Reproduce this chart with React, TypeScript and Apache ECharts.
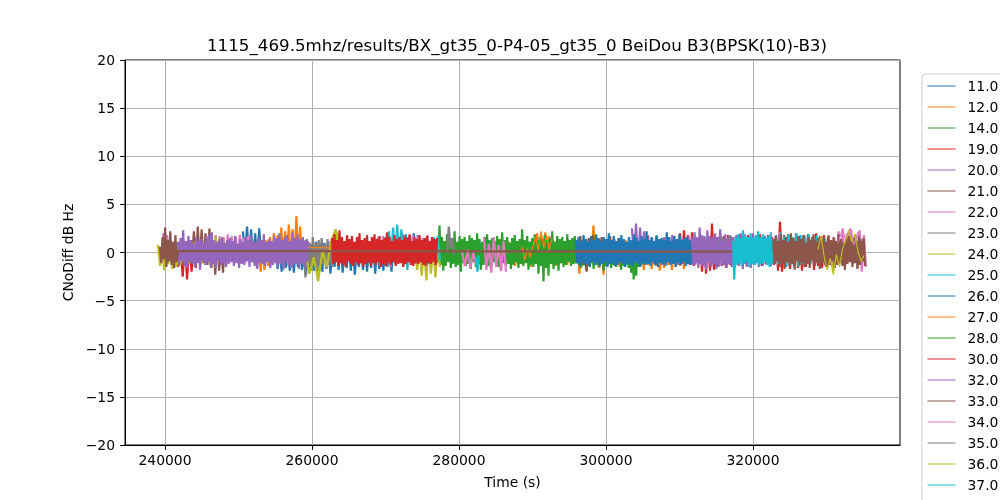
import React, { useEffect, useRef } from "react";
import * as echarts from "echarts";

const TITLE = "1115_469.5mhz/results/BX_gt35_0-P4-05_gt35_0 BeiDou B3(BPSK(10)-B3)";
const NAMES = ["11.0", "12.0", "14.0", "19.0", "20.0", "21.0", "22.0", "23.0", "24.0", "25.0", "26.0", "27.0", "28.0", "30.0", "32.0", "33.0", "34.0", "35.0", "36.0", "37.0", "41.0"];
const COLORS = ["#1f77b4", "#ff7f0e", "#2ca02c", "#d62728", "#9467bd", "#8c564b", "#e377c2", "#7f7f7f", "#bcbd22", "#17becf"];
const X_TICKS = [240000, 260000, 280000, 300000, 320000];
const X_MIN = 234560;
const X_MAX = 340000;
// series whose separate time windows are joined by a straight line
const JOINED = ["33.0"];
// series drawn only as a thin trace (no band fill)
const THIN = ["27.0", "34.0", "35.0"];

// ---- values of each time window (dB Hz) ----
const v11 = [2.2,-0.8,2.7,-0.6,2.4,-1.0,2.0,-0.7,2.5,-0.9,1.0,-0.8,1.1,-1.0,0.9,-0.7,
  1.0,-1.7,0.8,-2.0,1.1,-1.6,0.9,-1.9,1.0,-2.1,0.7,-1.5,1.1,-1.8,0.9,-2.3,1.0,-1.6,0.8,-1.9,1.1,-1.4,0.9,-2.0,
  1.0,-1.7,0.8,-2.2,1.1,-1.5,0.9,-1.8,1.0,-2.1,0.7,-1.6,1.1,-1.9,0.9,-2.3,1.0,-1.5,0.8,-1.8,1.1,-2.0,0.9,-1.6,
  1.0,-2.2,0.8,-1.7,1.1,-1.9,0.9,-1.5,1.0,-2.0,0.8,-1.2,1.8,-1.0,2.1,-1.3,1.9,-0.9,1.7,-1.1,2.0,-1.2,1.8,-1.0];
const v12a = [0.9,-1.6,1.2,-2.0,1.0,-1.8,1.3,-1.4,1.6,-1.2,2.0,-1.0,1.8,-0.9,2.6,-1.1,2.2,-0.8,2.9,-1.0,2.4,-0.9,3.8,-1.0,2.7,-0.8];
const v12b = [0.8,-1.0,1.1,-1.2,0.9,-1.4,1.0,-1.1,1.2,-1.3,0.9,-1.0,1.1,-1.5,1.0,
  -1.1,2.0,-1.2,1.8,-1.0,2.1,-1.3,1.7,
  -1.1,1.2,-1.4,1.0,-1.2,1.3,-1.0,1.1,-1.3,0.9,-1.2,1.0,-1.1,
  1.1,-2.2,1.3,-1.4,1.2,-1.3,1.5,-1.1,2.8,-1.2,1.4,-1.6,1.2,-2.3,1.3,
  -1.3,1.1,-1.2,1.4,-1.0,1.2,-1.5,1.1,-1.3,1.3,-1.2,1.0,-1.4,1.2,-1.1,1.3,
  -1.5,1.1,-1.8,1.2,-1.3,1.0,-1.7,1.1,-1.4,1.2,-1.9,1.0,-1.6,1.1,-1.3,1.2,-1.8,1.0,-1.5,1.1,-1.4,1.2,-1.7,1.0,-1.2,1.1];
const v14 = [1.4,-1.1,2.8,-1.3,1.6,-1.9,1.2,-1.4,1.9,-1.0,1.5,-1.6,1.3,-1.2,2.2,-1.5,1.1,-1.3,1.7,-2.0,
  1.4,-1.1,1.6,-1.4,1.2,-1.2,1.8,-1.7,1.5,-1.0,1.3,-1.5,2.0,-1.2,1.4,-1.8,1.1,-1.3,1.6,-1.1,
  1.9,-1.4,1.3,-1.6,1.5,-1.0,1.2,-1.2,1.7,-1.5,1.4,-1.9,2.1,-1.1,1.3,-1.4,1.6,-1.2,1.0,-1.7,
  1.5,-1.3,1.8,-1.0,1.2,-1.6,1.4,-1.2,2.4,-1.4,1.3,-1.1,1.7,-1.8,1.1,-1.3,1.5,-1.5,1.9,-1.2,
  1.2,-2.2,1.6,-1.4,1.4,-3.0,1.8,-1.6,1.3,-2.4,1.5,-1.2,2.2,-1.7,1.1,-1.3,1.7,-1.9,1.4,-1.1,
  1.6,-1.5,1.2,-1.3,1.9,-1.0,1.3,-1.4,1.5,-1.2,1.7,-1.1,
  1.0,-1.2,0.9,-1.6,1.1,-1.3,0.8,-1.8,1.0,-1.4,1.2,-1.1,0.9,-1.7,1.0,-1.3,1.1,-1.5,0.8,-1.2,
  1.0,-1.9,0.9,-1.4,1.1,-1.2,1.0,-1.6,0.8,-1.3,1.2,-1.5,0.9,-1.1,1.0,-1.8,1.1,-1.4,0.9,-1.3,
  1.0,-1.6,0.8,-2.1,1.1,-2.8,0.9,-2.4,1.0,-1.5,0.8,-1.3,1.0,-1.2,0.9];
const v19a = [0.9,-1.5,1.0,-2.5,0.8,-2.8,1.1,-2.0,0.9,-1.6];
const v19b = [2.0,-1.2,2.3,-1.0,1.8,-1.3,2.1,
  -1.4,1.6,-1.3,1.7,-2.0,1.5,-2.2,1.4,-1.9,3.0,-1.8,1.6,
  -1.5,1.9,-1.4,1.7,-1.6,1.8,-1.3,1.6,
  -1.2,1.7,-1.1,1.9,-1.3,1.6,-1.2,1.8,-1.0,1.5,-1.3,1.7,-1.1,1.9,-1.4,1.6,-1.2,1.8,-1.0,
  1.6,-1.3,1.7,-1.9,3.2,-2.0,1.8,-1.5,1.9,-1.7,1.6,-1.4,2.0,-1.6,1.7,-1.9,1.8,-1.5,1.9,-1.3,1.6,-1.8,2.0,-1.4,1.7,-1.6,1.8,-1.5,1.6,-1.3];
const v20 = [2.5,-1.0,3.0,-1.2,2.6,-0.9,2.2,-1.1,1.8,-1.0,
  1.5,-1.2,1.7,-1.0,1.4,-1.3,1.6,-1.1,1.5,-1.2,1.8,-1.0,1.4,-1.3,1.6,-1.1,1.5,-1.2,1.7,-1.0,
  1.5,-1.3,1.6,-1.2,1.4,-1.4,1.7,-1.1,1.5,-1.3,1.6,-1.2,1.4,-1.5,1.6,-1.1,1.5,-1.4,1.7,-1.2,1.5,
  -1.6,1.8,-1.4,2.0,-1.7,1.9,-1.5,1.7,-1.6,2.0,-1.3,1.8,-1.5,1.6,-1.4,1.7,-1.3,1.5,-1.4,1.2,-1.2];
const v21a = [1.3,-1.0,2.2,-1.2,2.7,-0.9,2.4,-1.1,2.0,-1.3,2.5,-1.6,1.2,-2.3,1.1,-1.9,1.0,-2.1,0.9];
const v21b = [1.2,-0.8,1.7,-1.2,1.0,-2.0,1.5,-0.9,1.8,-1.1,1.3,-1.4,1.6,-1.0,1.2,-1.3,1.7,-0.9,1.4,-1.2,1.5,-1.1,1.3,-1.0];
const v22a = [2.0,-0.8,1.8,-1.0,1.2,-0.9,1.0,-0.7,1.1,-1.0,0.9,-0.8,1.2,-0.9,1.0,-1.1,0.8,-0.7,1.1,-0.9,1.0,-1.0,
  1.7,-0.8,1.6,-0.9,1.8,-1.0,1.7,-0.8,1.6,-1.1,1.9,-0.9,1.7,-1.0,1.6,-0.8,1.8,-0.9,1.5,-1.0,1.7,-0.8];
const v22b = [1.6,-1.4,1.7,-1.1,1.5,-1.5,1.8,-1.2,1.7,-1.0,1.9,-1.1,1.6,-0.9,1.8,-1.2,1.7,-1.0,1.5,-1.1,1.8,-0.9,1.6,-1.0];
const v22c = [0.1,-1.4,0.3,-1.6,0.0,-1.2];
const v22d = [1.5,-1.8,0.9,-2.1,1.6,-1.5,0.8,-1.9,1.2,-2.0];
const v22e = [1.2,-1.0,1.5,-1.2,2.2,-0.9,2.5,-1.1,2.0,-1.0,2.4,-1.2,1.9,-1.6,2.3,-2.0,1.8,-1.5];
const v23a = [1.2,-2.6,1.4,-1.5,1.0,-1.9,1.6,-1.3,1.1,-2.0,1.3,-1.4,1.5,-1.2,0.9,-1.7,1.4,-1.3,1.2,-1.5];
const v23b = [0.2,2.7,0.4,1.5,-0.2];
const v24a = [0.8,-1.4,0.6,-1.8,0.9,-1.2,0.7,-1.7,1.0,-1.5,0.8,-1.3,1.2,-1.0,0.9,-1.1,1.0,-0.9,1.1,-1.0,0.8,-1.2,1.0,-0.9,1.2,-1.1,1.3,-1.0,1.7,-0.9,1.5,-1.0,1.1,-0.8,1.0,-0.9];
const v24b = [0.3,-2.2,-0.5,-3.0,0.2,-1.5,1.2,2.4,0.9];
const v24c = [0.9,-1.8,0.7,-2.4,0.8,-2.9,1.0,-2.2,0.6,-2.6,0.9,-1.5];
const v25a = [1.6,-0.9,2.2,-1.0,2.6,-1.1,2.9,-0.8,2.4,-1.2,1.8,-1.8,1.5,-1.0,1.2,-1.1,1.3,-0.9,1.1,-1.0,1.4,-1.2,1.2,-0.9,1.6,-1.0,1.7,-0.8];
const v25b = [-0.5,-2.0,-0.3];
const v25c = [1.4,-1.0,1.8,-1.2,2.1,-1.1,1.7,-1.5,1.9,-1.3,1.6,-1.4,2.0,-1.5,1.8,-1.2,1.7,-1.0,1.9,-1.1,1.6,-1.0,1.8,-0.9,1.5,-1.0,1.4];
const v26 = [1.3,-1.1,1.6,-1.4,1.2,-1.0,1.8,-1.3,1.4,-1.2,1.1,-1.5,1.7,-1.0,1.3,-1.3,1.9,-1.1,1.5,-1.4,
  1.2,-1.2,1.6,-1.0,1.4,-1.5,2.0,-1.2,1.3,-1.1,1.7,-1.4,1.2,-1.3,1.5,-1.0,1.8,-1.2,1.4,-1.5,
  1.1,-1.1,1.6,-1.3,1.3,-1.4,1.9,-1.0,1.5,-1.2,1.2,-1.5,1.7,-1.1,1.4,-1.3,2.2,-1.2,1.3,-1.4,
  1.6,-1.0,1.2,-1.3,1.8,-1.5,1.4,-1.1,1.5,-1.2,1.3,-1.4,2.1,-1.0,1.6,-1.3,1.2,-1.2,1.7,-1.5,
  1.4,-1.1,1.9,-1.3,1.3,-1.0,1.5,-1.4,1.6,-1.2,1.3,-1.3,1.2];
const v27a = [0.52,0.48];
const v27b = [0.6,-0.8,0.4,-0.5,0.6,1.6,0.2,2.2,0.5,1.8,0.3,1.5];
const v30 = [1.5,-1.2,1.9,-1.0,1.3,-1.4,2.3,-1.1,1.6,-1.3,1.2,-1.5,1.8,-0.9,1.4,-1.2,1.7,-1.4,1.1,-1.0,
  1.6,-1.3,2.0,-1.1,1.3,-1.5,1.5,-1.2,1.8,-1.0,1.2,-1.4,1.6,-1.1,1.9,-1.3,1.4,-1.0,1.7,-1.5,
  1.3,-1.2,1.5,-1.4,2.1,-1.1,1.6,-1.3,1.2,-1.0,1.8,-1.4,1.4,-1.2,1.6,-1.1,1.3,-1.5,1.7,-1.2,
  1.5,-1.0,1.9,-1.3,1.2,-1.4,1.6,-1.1,1.4,-1.2,1.8,-1.0,1.3,-1.3,1.5,-1.4,1.7,-1.1,1.2,-1.2,
  1.6,-1.0,1.4,-1.3,1.5];
const v32a = [1.1,-1.3,1.5,-0.9,2.3,-1.4,1.2,-1.6,1.7,-1.0,1.3,-1.2,0.9,-1.5,1.6,-1.1,1.2,-1.8,1.4,-0.8,
  1.0,-1.3,1.5,-1.0,1.9,-1.4,2.1,-1.2,1.3,-1.6,1.1,-0.9,1.4,-1.3,1.6,-1.1,1.0,-1.5,1.3,-1.2,
  1.5,-1.0,1.2,-1.4,1.7,-1.1,0.9,-1.6,1.4,-1.2,1.1,-1.3,1.6,-0.9,1.3,-1.5,1.8,-1.0,1.2,-1.4,
  1.0,-1.7,1.5,-1.1,1.3,-1.2,1.9,-1.4,1.1,-1.0,1.4,-1.6,1.2,-1.3,1.7,-1.1,1.5,-1.5,2.0,-1.2,
  1.3,-1.8,1.6,-1.0,1.8,-1.4,1.2,-1.6,2.1,-1.3,1.5,-1.1,1.9,-1.7,1.4,-1.2,1.6,-1.5,1.3,-1.0,1.2];
const v32b = [1.6,-1.3,2.1,-1.1,1.5,-1.6,2.6,-1.2,1.8,-1.4,1.4,-1.8,2.3,-1.0,1.7,-1.5,1.5,-1.2,2.0,-1.7,1.6,-1.1,2.4,-1.4,1.5,-1.3,1.9,-1.6,1.4,-1.2,1.8,-1.5,1.6];
const v33a = [0.6,-1.1,1.6,-0.7,2.6,-1.5,1.3,-0.9,2.2,-1.3,1.1,-1.6,1.8,-1.0,0.15];
const v33b = [0.1,1.4,-1.2,1.7,-0.9,1.2,-1.5,1.9,-1.1,1.3,-1.7,1.6,-1.0,1.1,-1.4,2.0,-1.2,1.5,-1.8,1.2,
  -0.9,1.7,-1.3,1.4,-1.1,1.8,-1.5,1.0,-1.2,1.6,-1.6,1.3,-0.8,1.9,-1.4,1.2,-1.1,1.5,-1.7,1.4,
  -1.0,1.7,-1.3,1.1,-1.5,1.8,-1.2,1.3,-0.9,1.6,-1.6,1.2,-1.3,1.9,-1.1,1.4,-1.4,1.0,-1.8,1.5,
  -1.2,1.7,-1.0,1.3,-1.5,1.6,-1.1,1.2,-1.7,1.8,-1.3,1.4,-0.9,1.5,-1.4];
const v34 = [1.0,2.3,1.4,2.5,0.8,2.1,1.2];
const v35 = [0.9,1.6,1.1,1.7,1.0];
const v36 = [0.3,1.7,-0.4,-1.8,-0.6,-2.3,-0.2,-1.5,0.4,1.2,2.3,1.1,1.9,0.2,-0.9,-0.3];
const v37 = [1.2,-2.8,1.6,-1.3,1.9,-1.1,1.5,-1.4,2.3,-1.2,1.7,-1.0,1.6,-1.5,2.0,-1.2,1.5,-1.3,1.8,-1.1,2.2,-1.4,1.6,-1.2,1.9,-1.0,1.5,-1.3,1.7,-1.5,2.1,-1.2];

// [series, window start (s), window end (s), values]
const SEGMENTS: [string, number, number, number[]][] = [
  ["11.0", 250610, 274690, v11],
  ["12.0", 252250, 258640, v12a],
  ["12.0", 286260, 311430, v12b],
  ["14.0", 277010, 305300, v14],
  ["19.0", 241500, 244220, v19a],
  ["19.0", 310070, 330480, v19b],
  ["20.0", 303540, 322990, v20],
  ["21.0", 243400, 248160, v21a],
  ["21.0", 295920, 302580, v21b],
  ["22.0", 239730, 251560, v22a],
  ["22.0", 268980, 276740, v22b],
  ["22.0", 280410, 282310, v22c],
  ["22.0", 283400, 286390, v22d],
  ["22.0", 330480, 335370, v22e],
  ["23.0", 258900, 262720, v23a],
  ["23.0", 278370, 279320, v23b],
  ["24.0", 239050, 248840, v24a],
  ["24.0", 259050, 263810, v24b],
  ["24.0", 274010, 277410, v24c],
  ["25.0", 269930, 277410, v25a],
  ["25.0", 282310, 282720, v25b],
  ["25.0", 322590, 329800, v25c],
  ["26.0", 295920, 311700, v26],
  ["27.0", 259460, 262720, v27a],
  ["27.0", 288570, 292650, v27b],
  ["30.0", 262720, 277010, v30],
  ["32.0", 241770, 259460, v32a],
  ["32.0", 311700, 317280, v32b],
  ["33.0", 239320, 241770, v33a],
  ["33.0", 322590, 335240, v33b],
  ["34.0", 331570, 334830, v34],
  ["35.0", 315240, 317280, v35],
  ["36.0", 328840, 335100, v36],
  ["37.0", 317280, 322590, v37],
];

const FONT = "DejaVu Sans";
const minus = (v: number) => (v < 0 ? "\u2212" + Math.abs(v) : String(v));

function seriesData(name: string) {
  const segs = SEGMENTS.filter((s) => s[0] === name).sort((a, b) => a[1] - b[1]);
  const out: any[] = [];
  segs.forEach((s, k) => {
    if (k > 0 && !JOINED.includes(name)) out.push([(segs[k - 1][2] + s[1]) / 2, "-"]);
    const [, t0, t1, vals] = s;
    const n = vals.length;
    vals.forEach((v, i) => out.push([n > 1 ? t0 + ((t1 - t0) * i) / (n - 1) : t0, v]));
  });
  return out;
}

export default function App() {
  const ref = useRef<HTMLDivElement>(null);
  useEffect(() => {
    const chart = echarts.init(ref.current!, null, { renderer: "svg" });
    chart.setOption({
      animation: false,
      color: COLORS,
      textStyle: { fontFamily: FONT },
      title: {
        text: TITLE,
        left: 512,
        top: 31,
        textAlign: "center",
        textStyle: { fontFamily: FONT, fontSize: 16.7, fontWeight: "normal", color: "#000" },
      },
      legend: {
        orient: "vertical",
        left: 922,
        top: 74,
        height: 700,
        padding: [5, 5, 5, 5],
        itemWidth: 28,
        itemHeight: 14,
        itemGap: 7,
        borderColor: "#cccccc",
        borderWidth: 1,
        borderRadius: 3,
        backgroundColor: "rgba(255,255,255,0.8)",
        selectedMode: false,
        itemStyle: { opacity: 0, borderWidth: 0 },
        lineStyle: { width: 1 },
        textStyle: { fontFamily: FONT, fontSize: 13.9, color: "#000", padding: [0, 0, 0, 7] },
        data: NAMES,
      },
      grid: { left: 125, right: 100, top: 60, bottom: 55, show: true, borderColor: "#000", borderWidth: 1, backgroundColor: "transparent" },
      xAxis: {
        type: "value",
        min: X_MIN,
        max: X_MAX,
        name: "Time (s)",
        nameLocation: "middle",
        nameGap: 30,
        nameTextStyle: { fontFamily: FONT, fontSize: 13.9, color: "#000" },
        axisLine: { show: true, onZero: false, lineStyle: { color: "#000", width: 1 } },
        axisTick: { show: true, inside: false, length: 4.9, customValues: X_TICKS, lineStyle: { color: "#000" } },
        axisLabel: { customValues: X_TICKS, formatter: (v: number) => String(v), fontFamily: FONT, fontSize: 13.9, color: "#000", margin: 8 },
        splitLine: { show: true, lineStyle: { color: "#b0b0b0", width: 1 } },
      },
      yAxis: {
        type: "value",
        min: -20,
        max: 20,
        interval: 5,
        name: "CNoDiff dB Hz",
        nameLocation: "middle",
        nameGap: 46,
        nameTextStyle: { fontFamily: FONT, fontSize: 13.9, color: "#000" },
        axisLine: { show: true, onZero: false, lineStyle: { color: "#000", width: 1 } },
        axisTick: { show: true, inside: false, length: 4.9, lineStyle: { color: "#000" } },
        axisLabel: { formatter: minus, fontFamily: FONT, fontSize: 13.9, color: "#000", margin: 10 },
        splitLine: { show: true, lineStyle: { color: "#b0b0b0", width: 1 } },
      },
      series: NAMES.map((name) => ({
        name,
        type: "line",
        data: seriesData(name),
        symbol: "none",
        showSymbol: false,
        silent: true,
        connectNulls: false,
        lineStyle: { width: THIN.includes(name) || name === "36.0" ? 1.2 : 2.2 },
        areaStyle: THIN.includes(name) ? undefined : { opacity: 1, origin: "auto" },
        emphasis: { disabled: true },
      })),
    });
    return () => chart.dispose();
  }, []);
  return <div ref={ref} style={{ position: "fixed", left: 0, top: 0, width: 1000, height: 500 }} />;
}
